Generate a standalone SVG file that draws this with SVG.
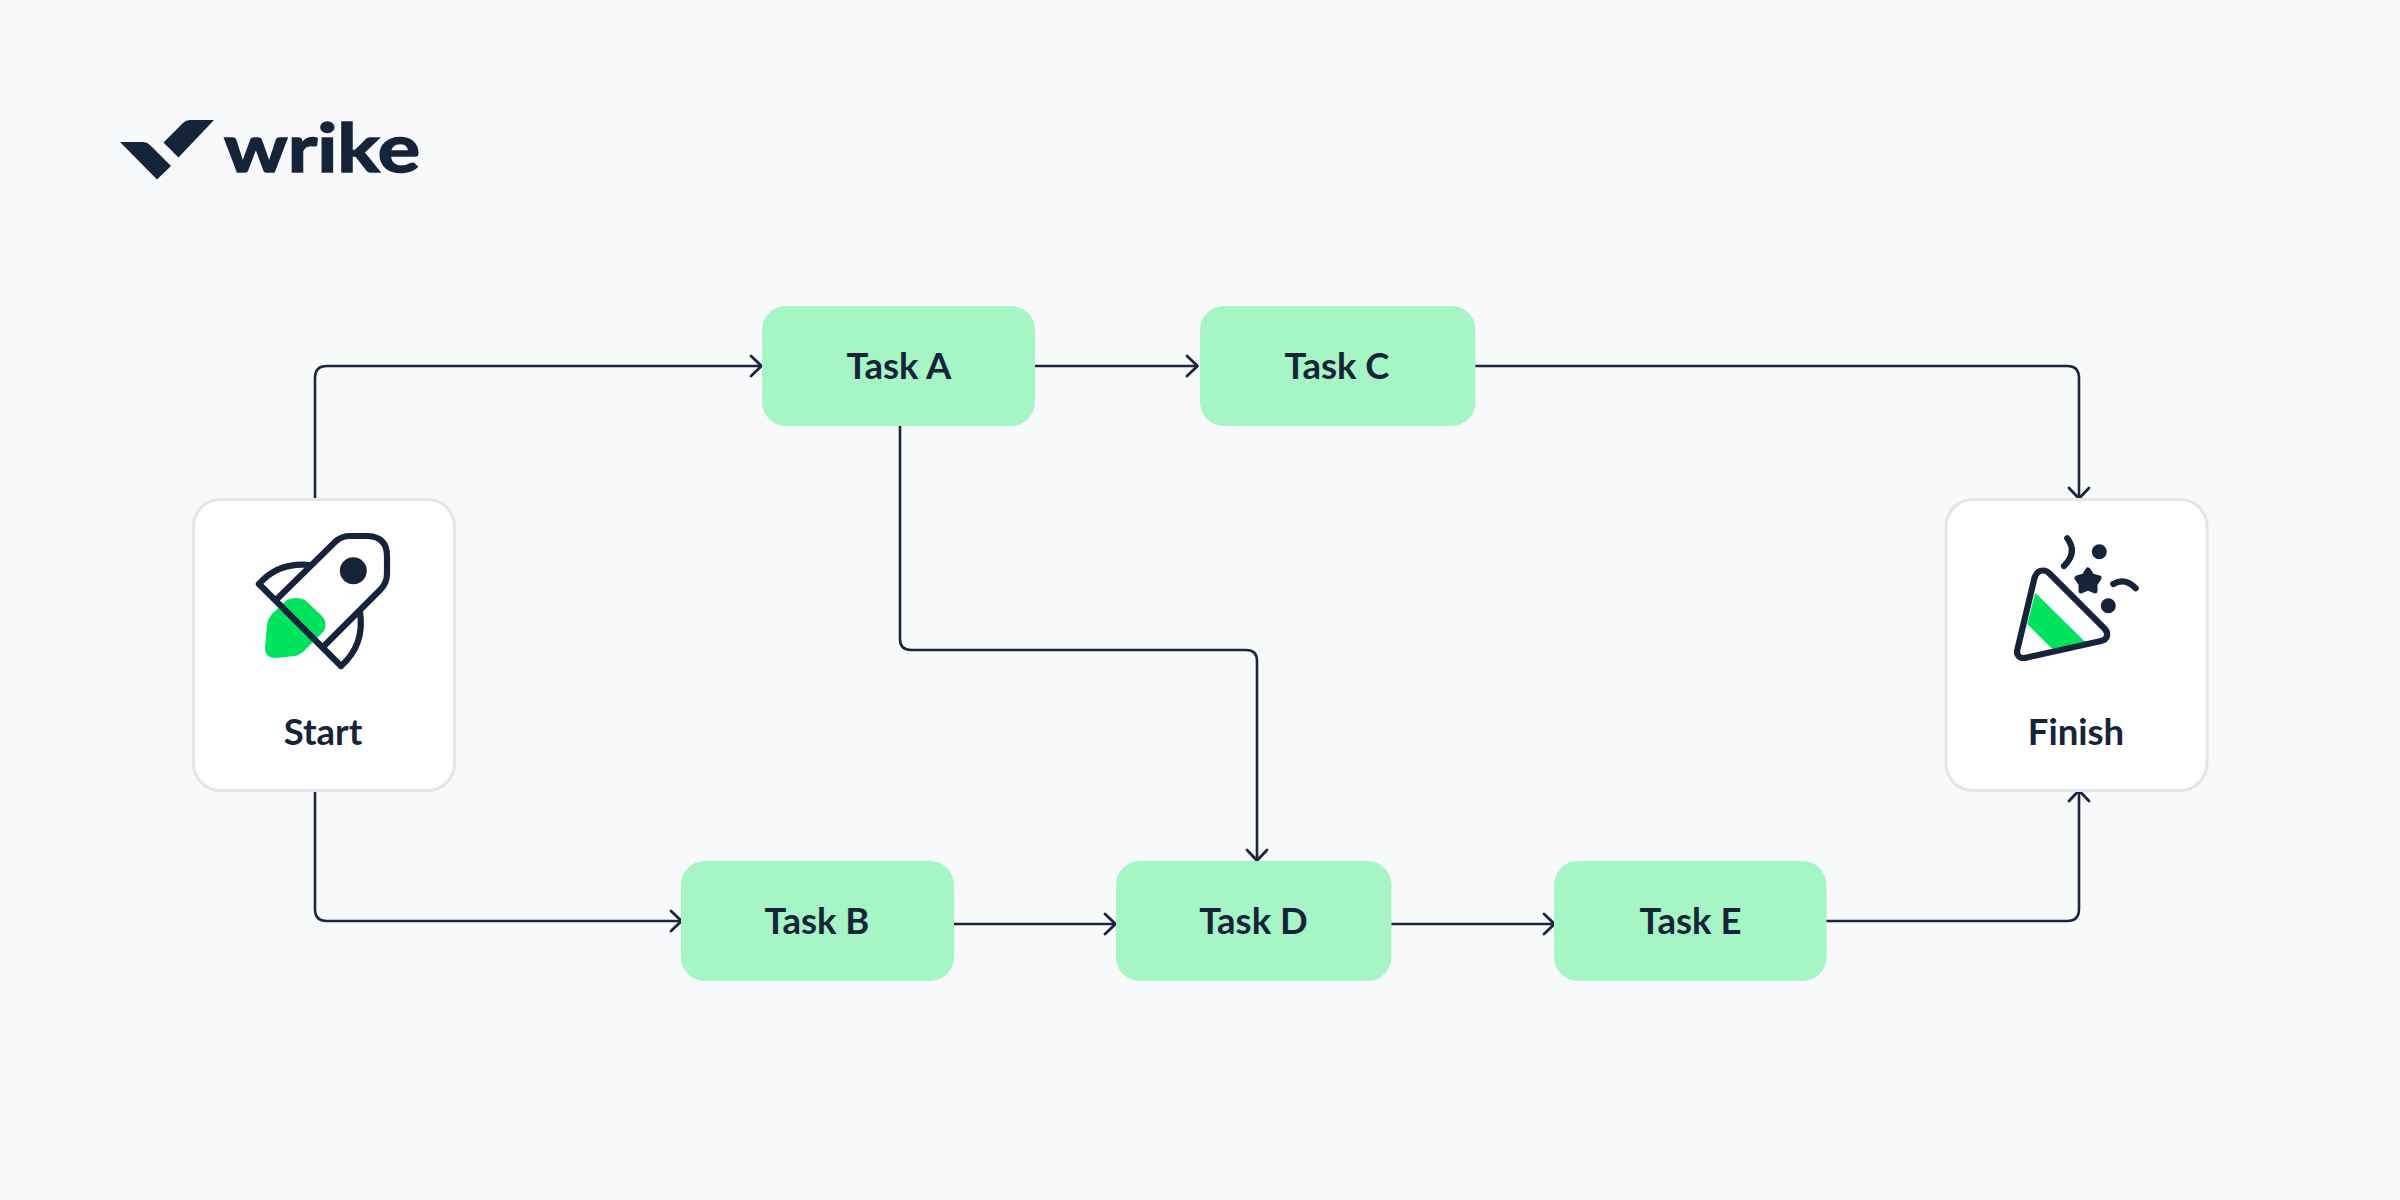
<svg xmlns="http://www.w3.org/2000/svg" width="2400" height="1200" viewBox="0 0 2400 1200">
<style>
.task{fill:#a5f5c5}
.card{fill:#fff;stroke:#e4e5e7;stroke-width:3}
.lbl{font-family:"Lato","Liberation Sans",sans-serif;font-weight:700;font-size:36.500px;fill:#16243a;text-anchor:middle}
.conn{fill:none;stroke:#1c2540;stroke-width:2.6;marker-end:url(#arr)}
.ink{fill:none;stroke:#16243a;stroke-width:6.200;stroke-linecap:round;stroke-linejoin:round}
.dot{fill:#16243a}
.bright{fill:#00e35f}
</style>
<defs>
<marker id="arr" markerUnits="userSpaceOnUse" markerWidth="16" markerHeight="26" refX="13" refY="13" orient="auto">
<path d="M2,3 L12.5,13 L2,23" fill="none" stroke="#1c2540" stroke-width="2.8" stroke-linecap="round" stroke-linejoin="round"/>
</marker>
</defs>
<rect width="2400" height="1200" fill="#f8f9fb"/>
<g id="logo">
<path class="dot" d="M120,142 L143,142 Q147,142 150,145 L171,166 L157,179.500 Z"/>
<path class="dot" d="M163.500,142.500 L183,123 Q186,120 190,120 L214,120 L178.500,157.500 Z"/>
<text x="224" y="171.500" font-family="Lato,'Liberation Sans',sans-serif" font-weight="700" font-size="66" fill="#16243a" stroke="#16243a" stroke-width="1.500" textLength="196" lengthAdjust="spacingAndGlyphs">wrike</text>
</g>
<g id="connectors">
<path class="conn" d="M315,499 V378 Q315,366 327,366 H762"/>
<path class="conn" d="M1035,366 H1198"/>
<path class="conn" d="M1475,366 H2067 Q2079,366 2079,378 V499"/>
<path class="conn" d="M900,426 V639 Q900,650 911,650 H1246 Q1257,650 1257,661 V861"/>
<path class="conn" d="M315,790 V909 Q315,921 327,921 H682"/>
<path class="conn" d="M954,924 H1116"/>
<path class="conn" d="M1391,924 H1555"/>
<path class="conn" d="M1826,921 H2067 Q2079,921 2079,909 V790"/>
</g>
<g id="start">
<rect class="card" x="193.500" y="499.500" width="261" height="291" rx="27"/>
<path class="bright" d="M267,625 Q268,618 273,613 L287,600 Q296,596 305,600 L322,616 Q328,623 324,631 L303,652 Q299,655 295,656 L276,658 Q265,658 265,648 Z"/>
<path class="ink" d="M259,584 L341,666 M278,598 L336,541 Q342,536 350,536 L368,536 Q387,537 387,556 L387,574 Q387,583 380,590 L325,645"/>
<path class="ink" d="M259,584 Q278,562 310,565 M341,666 Q365,645 360,612"/>
<circle class="dot" cx="353.300" cy="570.700" r="13.500"/>
<text class="lbl" x="323" y="745">Start</text>
</g>
<g id="finish">
<rect class="card" x="1946" y="499.500" width="261" height="291" rx="27"/>
<path class="bright" d="M2035.300,592.700 L2085,641.700 L2052.300,649 L2027.300,624 Z"/>
<path class="ink" d="M2034.500,578 Q2037,570.500 2043,570.500 Q2047,570.500 2050,574 L2104,628 Q2108,632 2107,636 Q2106,640 2101,641 L2027,657.500 Q2021,659 2018.500,656 Q2016,653 2017.500,649 Z"/>
<circle class="dot" cx="2099.300" cy="551.700" r="7.500"/>
<circle class="dot" cx="2108.300" cy="605.700" r="7.500"/>
<path class="ink" d="M2067.300,538.300 Q2078,552 2064,566 M2113.300,584 Q2125,577 2135.700,588.300"/>
<path class="dot" stroke="#16243a" stroke-width="5" stroke-linejoin="round" d="M2088,570 L2092,576 L2099,578 L2095,584 L2095,591 L2088,588 L2081,591 L2081,584 L2077,578 L2084,576 Z"/>
<text class="lbl" x="2076" y="745">Finish</text>
</g>
<g id="task-a"><rect class="task" x="762" y="306" width="273" height="120" rx="24"/><text class="lbl" x="899" y="379">Task A</text></g>
<g id="task-c"><rect class="task" x="1200" y="306" width="275.500" height="120" rx="24"/><text class="lbl" x="1337" y="379">Task C</text></g>
<g id="task-b"><rect class="task" x="681" y="861" width="273" height="120" rx="24"/><text class="lbl" x="817" y="934">Task B</text></g>
<g id="task-d"><rect class="task" x="1116" y="861" width="275.500" height="120" rx="24"/><text class="lbl" x="1253.500" y="934">Task D</text></g>
<g id="task-e"><rect class="task" x="1554" y="861" width="272.500" height="120" rx="24"/><text class="lbl" x="1690.500" y="934">Task E</text></g>
</svg>
